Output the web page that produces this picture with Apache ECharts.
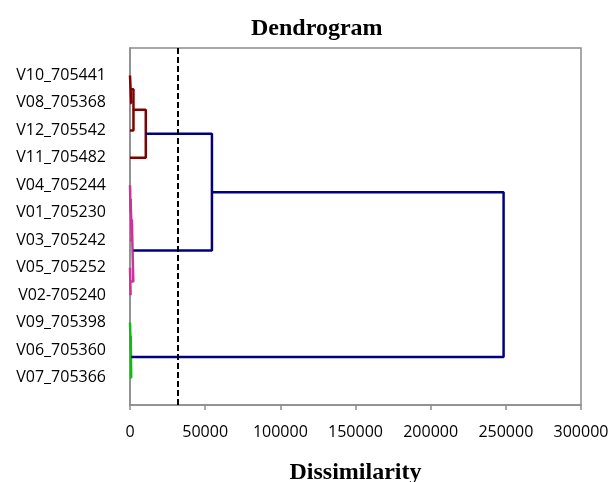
<!DOCTYPE html>
<html>
<head>
<meta charset="utf-8">
<script src="https://cdn.jsdelivr.net/npm/echarts@6/dist/echarts.min.js"></script>
<style>
  html, body { margin: 0; padding: 0; background: #fff; }
  #chart { width: 612px; height: 482px; }
</style>
</head>
<body>
<div id="chart"></div>
<script>
// leaves, top to bottom
const leaves = [
  'V10_705441', 'V08_705368', 'V12_705542', 'V11_705482',
  'V04_705244', 'V01_705230', 'V03_705242', 'V05_705252',
  'V02-705240', 'V09_705398', 'V06_705360', 'V07_705366'
]

// merges: node 12 + k is created by merge k (children index leaves or earlier nodes)
const mergeA = [0, 12, 13, 4, 15, 7, 16, 9, 19, 14, 21]
const mergeB = [1, 2, 3, 5, 6, 8, 17, 10, 11, 18, 20]
const mergeHeight = [800, 2300, 10500, 400, 1200, 400, 2200, 500, 800, 54500, 248500]
const mergeColor = ['#800000', '#800000', '#800000', '#cc3399', '#cc3399', '#cc3399', '#cc3399',
  '#11bb11', '#11bb11', '#000080', '#000080']

const cutLevel = 32000
const xTicks = [0, 300000, 50000] // min, max, interval

// node position along the leaf axis and its height
const nodeY = leaves.map((_, i) => i)
const nodeH = leaves.map(() => 0)
const series = []
for (let k = 0; k < mergeA.length; k++) {
  const a = mergeA[k], b = mergeB[k], h = mergeHeight[k]
  nodeY.push((nodeY[a] + nodeY[b]) / 2)
  nodeH.push(h)
  series.push({
    type: 'line',
    symbol: 'none',
    silent: true,
    lineStyle: { color: mergeColor[k], width: 2.5 },
    data: [[nodeH[a], nodeY[a]], [h, nodeY[a]], [h, nodeY[b]], [nodeH[b], nodeY[b]]]
  })
}
series[0].markLine = {
  silent: true,
  symbol: 'none',
  label: { show: false },
  lineStyle: { color: '#000', width: 2, type: [6, 3] },
  data: [{ xAxis: cutLevel }]
}

const chart = echarts.init(document.getElementById('chart'))
chart.setOption({
  animation: false,
  backgroundColor: '#fff',
  title: {
    text: 'Dendrogram',
    left: 246,
    top: 12,
    textStyle: { fontFamily: 'Liberation Serif', fontWeight: 'bold', fontSize: 24, color: '#000' }
  },
  grid: {
    left: 130, right: 31, top: 48, bottom: 77,
    outerBoundsMode: 'none',
    show: true, borderColor: '#8c8c8c', borderWidth: 1.5
  },
  xAxis: {
    type: 'value',
    min: xTicks[0], max: xTicks[1], interval: xTicks[2],
    name: 'Dissimilarity',
    nameLocation: 'middle',
    nameGap: 56,
    nameTextStyle: { fontFamily: 'Liberation Serif', fontWeight: 'bold', fontSize: 24, color: '#000' },
    axisLine: { show: true, onZero: false, lineStyle: { color: '#8c8c8c', width: 1.5 } },
    axisTick: { show: true, length: 5, lineStyle: { color: '#8c8c8c', width: 1.5 } },
    axisLabel: { fontFamily: 'Open Sans', fontSize: 16, color: '#000', margin: 19, formatter: v => String(v) },
    splitLine: { show: false }
  },
  yAxis: {
    type: 'value',
    inverse: true,
    min: -1, max: 12, interval: 1,
    axisLine: { show: true, onZero: false, lineStyle: { color: '#8c8c8c', width: 1.5 } },
    axisTick: { show: false },
    axisLabel: {
      fontFamily: 'Open Sans', fontSize: 16, color: '#000', margin: 24,
      padding: [6, 0, 0, 0],
      formatter: v => (v >= 0 && v < leaves.length ? leaves[v] : '')
    },
    splitLine: { show: false }
  },
  series: series
})
</script>
</body>
</html>
